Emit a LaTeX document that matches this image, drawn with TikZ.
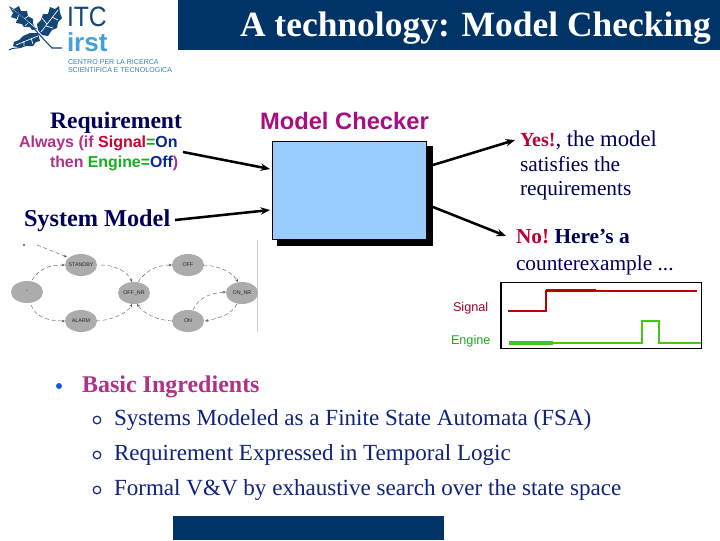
\documentclass[tikz,border=0pt]{standalone}
\usepackage{fontspec}
\setmainfont{Liberation Serif}
\setsansfont{Liberation Sans}
\usetikzlibrary{arrows.meta}
\definecolor{barblue}{RGB}{0,51,102}
\definecolor{navyt}{RGB}{0,0,90}
\definecolor{purp}{RGB}{165,15,130}
\definecolor{sigred}{RGB}{205,0,50}
\definecolor{engreen}{RGB}{20,175,30}
\definecolor{onblue}{RGB}{10,40,140}
\definecolor{boxblue}{RGB}{153,204,255}
\definecolor{nored}{RGB}{190,0,50}
\definecolor{logodark}{RGB}{20,70,120}
\definecolor{logolight}{RGB}{70,160,215}
\definecolor{statefill}{RGB}{172,172,172}
\definecolor{mauve}{RGB}{175,50,135}
\definecolor{bodyblue}{RGB}{15,35,125}
\definecolor{bulblue}{RGB}{20,90,215}
\tikzset{
  x=0.75pt,y=-0.75pt,
  txt/.style={inner sep=0pt,outer sep=0pt,anchor=base west},
  flow/.style={line width=1.9pt,-{Stealth[length=7pt,width=5.5pt]},black},
  fsmedge/.style={densely dashed,line width=0.3pt,black!65,-{Stealth[length=2.5pt,width=2pt]}},
  leaf/.style={fill=logodark,draw=none},
  vein/.style={white,line width=0.5pt},
  wave/.style={line width=1.5pt},
}
\begin{document}
\begin{tikzpicture}
\useasboundingbox (0,0) rectangle (720,540);
\fill[white] (0,0) rectangle (720,540);
% bars
\fill[barblue] (178,0) rectangle (720,50);
\fill[barblue] (173,516) rectangle (444,540);
\node[txt,text=white,font=\bfseries\fontsize{26.6}{28}\selectfont] (title) at (240,36) {A technology: Model Checking};
% logo
\node[txt,text=logodark,font=\sffamily\fontsize{21}{20}\selectfont,xscale=0.88] (itc) at (67,26.5) {ITC};
\node[txt,text=logolight,font=\sffamily\bfseries\fontsize{19.5}{20}\selectfont] (irst) at (67,51.5) {irst};
\node[txt,text=logolight!80!black,font=\sffamily\fontsize{5.3}{6}\selectfont] (cen1) at (68,64.5) {CENTRO PER LA RICERCA};
\node[txt,text=logolight!80!black,font=\sffamily\fontsize{5.3}{6}\selectfont] (cen2) at (68,72.5) {SCIENTIFICA E TECNOLOGICA};
% leaves
\fill[leaf] (9,6) -- (14,9) -- (19,6) -- (21,11) -- (27,11) -- (28,16) -- (33,19) -- (33,24) -- (37,29) -- (32,30) -- (30,27) -- (24,27) -- (22,24) -- (16,23) -- (17,19) -- (11,17) -- (13,13) -- cycle;
\fill[leaf] (38,33) -- (30,33) -- (23,36) -- (19,40) -- (14,42) -- (13,46) -- (20,48) -- (26,46) -- (33,46) -- (36,42) -- (40,41) -- cycle;
\fill[leaf] (38,30) -- (37,24) -- (41,20) -- (43,14) -- (48,14) -- (50,7) -- (55,9) -- (59,6) -- (60,13) -- (62,18) -- (58,22) -- (57,28) -- (52,30) -- (48,36) -- (42,35) -- cycle;
\draw[vein] (12,9) -- (36,28) (19,14) -- (17,20) (24,19) -- (30,15) (28,23) -- (25,26);
\draw[vein] (16,45) -- (38,36) (24,41) -- (24,46) (31,38) -- (33,44);
\draw[vein] (41,32) -- (58,10) (47,24) -- (42,18) (52,17) -- (58,20) (46,26) -- (53,28);
\draw[logodark,line width=0.8pt] (12,10) .. controls (28,20) and (40,36) .. (52,48) -- (62,48);
\draw[logodark,line width=0.7pt] (9,50) .. controls (13,47) and (17,49) .. (22,47);
% headings
\node[txt,text=navyt,font=\bfseries\fontsize{17.7}{19}\selectfont] (req) at (50,128) {Requirement};
\node[txt,font=\sffamily\bfseries\fontsize{12}{13}\selectfont] (reqa) at (19,147) {\textcolor{mauve}{Always (if }\textcolor{sigred}{Signal}\textcolor{engreen}{=}\textcolor{onblue}{On}};
\node[txt,font=\sffamily\bfseries\fontsize{11.9}{13}\selectfont] (reqb) at (50,167) {\textcolor{mauve}{then }\textcolor{engreen}{Engine=}\textcolor{onblue}{Off}\textcolor{mauve}{)}};
\node[txt,text=navyt,font=\bfseries\fontsize{18.2}{20}\selectfont] (sys) at (24,226) {System Model};
\node[txt,text=purp,font=\sffamily\bfseries\fontsize{17.8}{19}\selectfont] (mcl) at (260,129) {Model Checker};
% checker
\fill[black] (277,146) rectangle (433,246);
\node[draw=black,line width=0.6pt,fill=boxblue,minimum width=116pt,minimum height=74pt,inner sep=0pt,anchor=north west] (mc) at (271.5,140.5) {};
\coordinate (reqe) at (183,152);
\coordinate (syse) at (175,220);
\coordinate (mcin1) at (270,169);
\coordinate (mcin2) at (270,210);
\coordinate (mco1) at (433,165);
\coordinate (mco2) at (433,207);
\coordinate (yese) at (515,140);
\coordinate (noe) at (506,236);
\draw[flow] (reqe) -- (mcin1);
\draw[flow] (syse) -- (mcin2);
\draw[flow] (mco1) -- (yese);
\draw[flow] (mco2) -- (noe);
% results
\node[txt,text=nored,font=\bfseries\fontsize{15}{16}\selectfont] (yes) at (520,146) {Yes!\textcolor{navyt}{\mdseries\fontsize{17}{16}\selectfont, the model}};
\node[txt,text=navyt,font=\fontsize{16}{17}\selectfont] (yes2) at (520,171) {satisfies the};
\node[txt,text=navyt,font=\fontsize{16}{17}\selectfont] (yes3) at (520,195) {requirements};
\node[txt,text=nored,font=\bfseries\fontsize{16}{18}\selectfont] (no) at (516,243) {No!\textcolor{navyt}{\fontsize{16}{16}\selectfont\ Here’s a}};
\node[txt,text=navyt,font=\fontsize{16}{17}\selectfont] (no2) at (516,270) {counterexample ...};
% FSM
\draw[black!20,line width=0.6pt] (257,240) -- (257,332);
\foreach \n/\x/\y/\t in {stb/81/265/STANDBY,off/188/265/OFF,ofn/134/293/OFF\_NR,ini/27/292/-,alm/81/321/ALARM,on/188/321/ON,onr/242/293/ON\_NR}{
  \fill[statefill] (\x,\y) ellipse (16 and 11);
  \node[inner sep=0pt,font=\sffamily\fontsize{4}{4}\selectfont,text=black!85] (\n) at (\x,\y) {\t};
}
\coordinate (dot) at (24,245);
\fill[black!70] (dot) circle (1.2);
\draw[fsmedge] (37,245) -- (67,257);
\draw[fsmedge] (32,280) .. controls (40,268) and (50,265) .. (65,265);
\draw[fsmedge] (31,305) .. controls (36,318) and (50,321) .. (65,321);
\draw[fsmedge] (101,265) .. controls (115,265) and (128,272) .. (132,282);
\draw[fsmedge] (96,321) .. controls (115,320) and (128,312) .. (132,304);
\draw[fsmedge] (138,282) .. controls (146,270) and (158,265) .. (172,265);
\draw[fsmedge] (203,265) .. controls (220,266) and (232,272) .. (238,282);
\draw[fsmedge] (172,321) .. controls (158,320) and (145,315) .. (137,304);
\draw[fsmedge] (237,304) .. controls (232,314) and (220,318) .. (205,321);
\draw[fsmedge] (193,310) .. controls (198,298) and (210,293) .. (226,292);
% signals
\node[txt,text=sigred!80!black,font=\sffamily\fontsize{9.5}{11}\selectfont] (sl) at (453,311) {Signal};
\node[txt,text=engreen,font=\sffamily\fontsize{9.5}{11}\selectfont] (el) at (451,344) {Engine};
\draw[black,line width=0.8pt] (501,282.5) rectangle (701.5,348.5);
\draw[wave,color=red!75!black] (508,311) -- (546,311) -- (546,290.5) -- (697,290.5);
\draw[line width=2.1pt,color=red!75!black] (508,311) -- (520,311) (546,290.5) -- (596,290.5);
\draw[line width=1.8pt,color=engreen!70!lime] (509,343) -- (642,343) -- (642,321) -- (659,321) -- (659,343) -- (701,343);
\draw[line width=2.4pt,color=engreen!70!lime] (509,343) -- (553,343);
% bullets
\fill[bulblue] (59,386) circle (3);
\node[txt,text=mauve,font=\bfseries\fontsize{18}{19}\selectfont] (b0) at (82,392) {Basic Ingredients};
\foreach \n/\y/\t in {b1/425/Systems Modeled as a Finite State Automata (FSA),b2/460/Requirement Expressed in Temporal Logic,b3/495/Formal V\&V by exhaustive search over the state space}{
  \node[txt,text=bodyblue,font=\fontsize{17.3}{19}\selectfont] (\n) at (114,\y) {\t};
  \draw[bodyblue,line width=0.9pt] (97,\y-5) circle (3.8);
}
\end{tikzpicture}
\end{document}
